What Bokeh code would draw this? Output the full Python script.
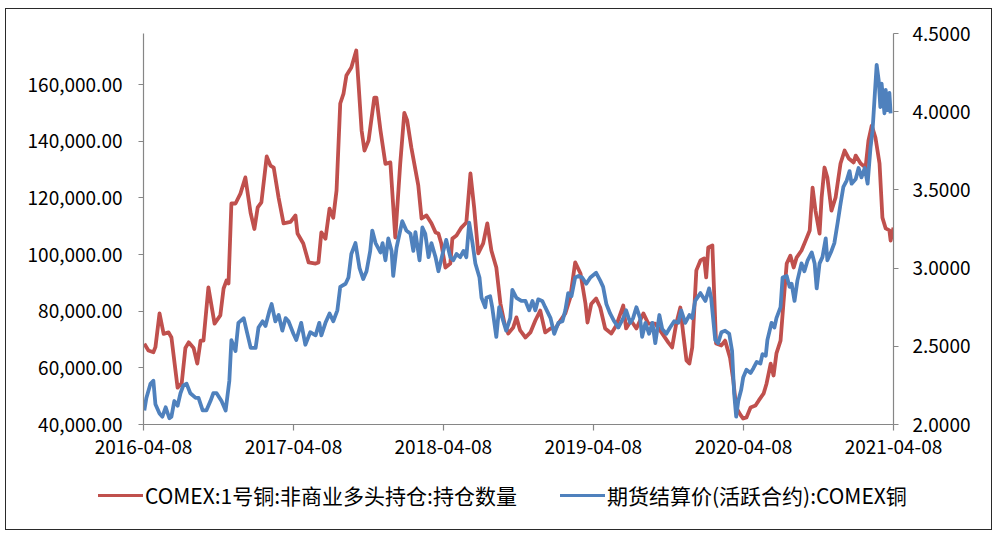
import pandas as pd
from bokeh.plotting import figure
from bokeh.layouts import column
from bokeh.models import (Range1d, LinearAxis, FixedTicker, NumeralTickFormatter,
                          DatetimeTickFormatter, ColumnDataSource, Div)
from bokeh.embed import file_html
from bokeh.resources import INLINE

# ---------------- data ----------------
red_dates = [
    "2016-04-10", "2016-04-20", "2016-05-02", "2016-05-07", "2016-05-17", "2016-05-27",
    "2016-06-08", "2016-06-15", "2016-06-30", "2016-07-10", "2016-07-19", "2016-07-27",
    "2016-08-08", "2016-08-17", "2016-08-25", "2016-09-01", "2016-09-13", "2016-09-28",
    "2016-10-12", "2016-10-20", "2016-10-27", "2016-11-01", "2016-11-08", "2016-11-18",
    "2016-11-30", "2016-12-12", "2016-12-25", "2017-01-03", "2017-01-11", "2017-01-20",
    "2017-02-02", "2017-02-11", "2017-02-19", "2017-03-03", "2017-03-15", "2017-04-01",
    "2017-04-13", "2017-04-18", "2017-05-02", "2017-05-15", "2017-06-01", "2017-06-08",
    "2017-06-15", "2017-06-25", "2017-07-05", "2017-07-14", "2017-07-22", "2017-07-31",
    "2017-08-08", "2017-08-15", "2017-08-27", "2017-09-08", "2017-09-13", "2017-09-21",
    "2017-09-28", "2017-10-08", "2017-10-22", "2017-10-27", "2017-11-06", "2017-11-18",
    "2017-11-30", "2017-12-12", "2017-12-24", "2018-01-03", "2018-01-10", "2018-01-20",
    "2018-02-06", "2018-02-14", "2018-02-26", "2018-03-10", "2018-03-20", "2018-03-27",
    "2018-04-03", "2018-04-13", "2018-04-25", "2018-04-30", "2018-05-10", "2018-05-22",
    "2018-06-03", "2018-06-13", "2018-06-22", "2018-07-02", "2018-07-14", "2018-07-24",
    "2018-08-03", "2018-08-15", "2018-08-25", "2018-09-04", "2018-09-13", "2018-09-25",
    "2018-10-03", "2018-10-12", "2018-10-25", "2018-11-06", "2018-11-18", "2018-11-30",
    "2018-12-12", "2018-12-25", "2019-01-06", "2019-01-18", "2019-01-30", "2019-02-11",
    "2019-02-23", "2019-03-08", "2019-03-20", "2019-03-25", "2019-04-03", "2019-04-15",
    "2019-04-25", "2019-05-07", "2019-05-22", "2019-06-03", "2019-06-20", "2019-06-27",
    "2019-07-09", "2019-07-22", "2019-08-08", "2019-08-20", "2019-09-06", "2019-09-21",
    "2019-10-08", "2019-10-17", "2019-10-27", "2019-11-06", "2019-11-13", "2019-11-21",
    "2019-11-28", "2019-12-05", "2019-12-15", "2019-12-25", "2020-01-03", "2020-01-08",
    "2020-01-13", "2020-01-23", "2020-01-28", "2020-02-01", "2020-02-14", "2020-02-23",
    "2020-03-06", "2020-03-14", "2020-03-21", "2020-03-31", "2020-04-07", "2020-04-15",
    "2020-04-25", "2020-05-07", "2020-05-15", "2020-05-27", "2020-06-03", "2020-06-13",
    "2020-06-20", "2020-06-27", "2020-07-07", "2020-07-14", "2020-07-22", "2020-07-31",
    "2020-08-08", "2020-08-15", "2020-08-27", "2020-09-06", "2020-09-16", "2020-09-23",
    "2020-09-30", "2020-10-10", "2020-10-15", "2020-10-22", "2020-10-29", "2020-11-08",
    "2020-11-18", "2020-11-30", "2020-12-10", "2020-12-20", "2021-01-01", "2021-01-06",
    "2021-01-18", "2021-01-30", "2021-02-06", "2021-02-14", "2021-02-23", "2021-03-05",
    "2021-03-12", "2021-03-20", "2021-03-29", "2021-04-01", "2021-04-08",
]
red_values = [
    68500, 66100, 65500, 67300, 79200, 72000,
    72500, 70700, 53000, 54500, 67000, 69000,
    67000, 61500, 69600, 69600, 88400, 75600,
    78500, 88000, 90800, 89800, 118000, 118000,
    121500, 127200, 114500, 109000, 116600, 118400,
    134600, 131400, 130700, 120000, 111000, 111500,
    113800, 107400, 103900, 97200, 96800, 97200,
    107800, 105600, 116200, 113000, 122600, 153300,
    156800, 163200, 166000, 172000, 161400, 143800,
    136700, 140200, 155400, 155400, 143800, 132000,
    132500, 106000, 132000, 150000, 147300, 137800,
    124400, 112700, 113800, 111000, 107800, 107400,
    103900, 95400, 96800, 105600, 106700, 109500,
    111300, 128600, 116600, 100400, 103900, 111000,
    101400, 95400, 82700, 75600, 72100, 74200,
    77800, 73200, 70700, 72500, 76700, 80200,
    72500, 73900, 73900, 76700, 79200, 84800,
    97200, 93300, 82700, 76000, 82500, 84500,
    81300, 73900, 72100, 74900, 82000, 73900,
    76700, 73900, 79200, 75600, 75600, 72500,
    68900, 67200, 75600, 81300, 72100, 62600,
    61500, 67200, 94400, 97900, 98600, 91900,
    102500, 103200, 83800, 68600, 67900, 69600,
    63600, 55500, 46000, 43500, 42100, 42500,
    46000, 46700, 48500, 51000, 54500, 61500,
    57300, 65100, 69600, 82700, 96800, 99600,
    95400, 98900, 101400, 104900, 108500, 123600,
    115500, 107400, 120100, 130700, 127200, 115500,
    120100, 132100, 136700, 133900, 132500, 134900,
    132100, 130700, 140200, 145500, 141300, 132100,
    113000, 109200, 108500, 104900, 109500,
]

blue_dates = [
    "2016-04-10", "2016-04-15", "2016-04-25", "2016-05-02", "2016-05-07", "2016-05-17",
    "2016-05-24", "2016-06-01", "2016-06-10", "2016-06-15", "2016-06-22", "2016-06-30",
    "2016-07-07", "2016-07-14", "2016-07-22", "2016-07-31", "2016-08-13", "2016-08-20",
    "2016-08-30", "2016-09-08", "2016-09-18", "2016-09-25", "2016-10-03", "2016-10-15",
    "2016-10-25", "2016-11-03", "2016-11-08", "2016-11-18", "2016-11-25", "2016-12-08",
    "2016-12-15", "2016-12-25", "2017-01-06", "2017-01-13", "2017-01-23", "2017-01-30",
    "2017-02-09", "2017-02-14", "2017-02-23", "2017-03-03", "2017-03-12", "2017-03-20",
    "2017-03-27", "2017-04-08", "2017-04-15", "2017-04-27", "2017-05-07", "2017-05-19",
    "2017-06-01", "2017-06-10", "2017-06-15", "2017-06-25", "2017-07-05", "2017-07-14",
    "2017-07-24", "2017-07-31", "2017-08-13", "2017-08-20", "2017-08-27", "2017-09-06",
    "2017-09-16", "2017-09-25", "2017-10-03", "2017-10-12", "2017-10-17", "2017-10-25",
    "2017-11-06", "2017-11-11", "2017-11-18", "2017-11-25", "2017-12-03", "2017-12-07",
    "2017-12-15", "2017-12-29", "2018-01-08", "2018-01-18", "2018-01-25", "2018-01-30",
    "2018-02-09", "2018-02-16", "2018-02-23", "2018-03-03", "2018-03-10", "2018-03-20",
    "2018-03-27", "2018-04-08", "2018-04-15", "2018-04-25", "2018-05-02", "2018-05-10",
    "2018-05-19", "2018-05-27", "2018-06-03", "2018-06-10", "2018-06-18", "2018-06-25",
    "2018-07-05", "2018-07-10", "2018-07-19", "2018-07-22", "2018-07-31", "2018-08-05",
    "2018-08-15", "2018-08-22", "2018-09-01", "2018-09-08", "2018-09-18", "2018-09-23",
    "2018-10-03", "2018-10-15", "2018-10-25", "2018-11-03", "2018-11-11", "2018-11-18",
    "2018-11-25", "2018-12-05", "2018-12-12", "2018-12-25", "2019-01-03", "2019-01-13",
    "2019-01-23", "2019-01-30", "2019-02-06", "2019-02-14", "2019-02-23", "2019-03-03",
    "2019-03-12", "2019-03-22", "2019-04-01", "2019-04-15", "2019-04-25", "2019-05-02",
    "2019-05-10", "2019-05-19", "2019-05-29", "2019-06-08", "2019-06-20", "2019-06-27",
    "2019-07-07", "2019-07-14", "2019-07-22", "2019-07-31", "2019-08-05", "2019-08-13",
    "2019-08-22", "2019-08-30", "2019-09-06", "2019-09-16", "2019-09-23", "2019-10-03",
    "2019-10-12", "2019-10-22", "2019-11-01", "2019-11-08", "2019-11-18", "2019-11-28",
    "2019-12-05", "2019-12-12", "2019-12-25", "2020-01-01", "2020-01-06", "2020-01-15",
    "2020-01-20", "2020-01-30", "2020-02-06", "2020-02-14", "2020-02-23", "2020-03-04",
    "2020-03-11", "2020-03-16", "2020-03-21", "2020-03-26", "2020-04-02", "2020-04-07",
    "2020-04-15", "2020-04-25", "2020-05-02", "2020-05-10", "2020-05-19", "2020-05-24",
    "2020-06-01", "2020-06-05", "2020-06-15", "2020-06-22", "2020-06-27", "2020-07-07",
    "2020-07-12", "2020-07-22", "2020-07-29", "2020-08-03", "2020-08-10", "2020-08-17",
    "2020-08-27", "2020-09-03", "2020-09-11", "2020-09-21", "2020-09-28", "2020-10-03",
    "2020-10-10", "2020-10-17", "2020-10-25", "2020-10-29", "2020-11-08", "2020-11-15",
    "2020-11-23", "2020-11-30", "2020-12-07", "2020-12-15", "2020-12-22", "2020-12-27",
    "2021-01-06", "2021-01-13", "2021-01-20", "2021-01-28", "2021-02-04", "2021-02-11",
    "2021-02-16", "2021-02-21", "2021-02-26", "2021-03-03", "2021-03-07", "2021-03-10",
    "2021-03-17", "2021-03-20", "2021-03-24", "2021-03-29", "2021-04-01",
]
blue_values = [
    2.09, 2.17, 2.26, 2.28, 2.13, 2.07,
    2.05, 2.11, 2.04, 2.05, 2.15, 2.12,
    2.20, 2.25, 2.26, 2.20, 2.17, 2.17,
    2.09, 2.09, 2.15, 2.20, 2.20, 2.15,
    2.09, 2.28, 2.54, 2.47, 2.65, 2.68,
    2.60, 2.49, 2.49, 2.62, 2.66, 2.63,
    2.73, 2.77, 2.66, 2.70, 2.60, 2.68,
    2.66, 2.58, 2.54, 2.65, 2.51, 2.59,
    2.57, 2.65, 2.57, 2.65, 2.71, 2.66,
    2.73, 2.88, 2.90, 2.94, 3.09, 3.16,
    3.00, 2.93, 2.98, 3.11, 3.24, 3.16,
    3.10, 3.16, 3.05, 3.19, 3.11, 2.95,
    3.13, 3.30, 3.24, 3.22, 3.11, 3.23,
    3.05, 3.26, 3.22, 3.07, 3.16, 3.07,
    2.98, 3.11, 3.18, 3.07, 3.05, 3.09,
    3.07, 3.11, 3.07, 3.29, 3.16, 3.03,
    2.94, 2.81, 2.75, 2.81, 2.82, 2.75,
    2.56, 2.75, 2.66, 2.60, 2.68, 2.86,
    2.81, 2.79, 2.79, 2.73, 2.79, 2.73,
    2.80, 2.79, 2.75, 2.68, 2.58, 2.65,
    2.66, 2.73, 2.84, 2.82, 2.94, 2.95,
    2.94, 2.90, 2.94, 2.97, 2.92, 2.88,
    2.77, 2.71, 2.66, 2.62, 2.68, 2.73,
    2.65, 2.68, 2.75, 2.68, 2.56, 2.65,
    2.58, 2.65, 2.52, 2.70, 2.61, 2.58,
    2.62, 2.66, 2.65, 2.73, 2.65, 2.70,
    2.68, 2.79, 2.84, 2.81, 2.79, 2.87,
    2.81, 2.54, 2.52, 2.59, 2.60, 2.58,
    2.47, 2.20, 2.05, 2.15, 2.22, 2.30,
    2.35, 2.33, 2.36, 2.40, 2.39, 2.45,
    2.44, 2.54, 2.65, 2.62, 2.68, 2.75,
    2.94, 2.95, 2.88, 2.90, 2.79, 2.92,
    3.03, 2.98, 3.05, 3.10, 3.03, 2.87,
    3.03, 3.07, 3.19, 3.05, 3.11, 3.16,
    3.29, 3.41, 3.52, 3.56, 3.62, 3.54,
    3.57, 3.64, 3.58, 3.64, 3.54, 3.77,
    3.88, 4.09, 4.30, 4.20, 4.03, 4.18,
    3.99, 4.14, 4.01, 4.12, 3.99,
]

x_tick_labels = ["2016-04-08", "2017-04-08", "2018-04-08",
                 "2019-04-08", "2020-04-08", "2021-04-08"]
left_ticks = [40000, 60000, 80000, 100000, 120000, 140000, 160000]
right_ticks = [2.0, 2.5, 3.0, 3.5, 4.0, 4.5]

red_label = "COMEX:1号铜:非商业多头持仓:持仓数量"
blue_label = "期货结算价(活跃合约):COMEX铜"

# ---------------- plot ----------------
FONT = "Noto Sans CJK SC"
RED = "#C0504D"
BLUE = "#4F81BD"
AXIS_GRAY = "#868686"
LW = 3.8

red_src = ColumnDataSource(dict(x=pd.to_datetime(red_dates), y=red_values))
blue_src = ColumnDataSource(dict(x=pd.to_datetime(blue_dates), y=blue_values))

x_start = pd.Timestamp(x_tick_labels[0])
x_end = pd.Timestamp(x_tick_labels[-1])

p = figure(width=985, height=465, x_axis_type="datetime",
           output_backend="svg", toolbar_location=None,
           x_range=Range1d(x_start, x_end),
           y_range=Range1d(40000, 178000),
           min_border_left=137, min_border_right=98,
           min_border_top=24, min_border_bottom=50,
           background_fill_color="white", border_fill_color="white")
p.outline_line_color = None
p.grid.visible = False
p.extra_y_ranges = {"right": Range1d(2.0, 4.5)}

p.line("x", "y", source=red_src, line_color=RED, line_width=LW, line_join="round")
p.line("x", "y", source=blue_src, line_color=BLUE, line_width=LW,
       line_join="round", y_range_name="right")

def style_axis(ax):
    ax.axis_line_color = AXIS_GRAY
    ax.axis_line_width = 1.2
    ax.major_tick_line_color = AXIS_GRAY
    ax.major_tick_line_width = 1.2
    ax.major_tick_in = 0
    ax.major_tick_out = 5
    ax.minor_tick_line_color = None
    ax.major_label_text_font = FONT
    ax.major_label_text_font_size = "19px"
    ax.major_label_text_color = "#000000"

la = p.yaxis[0]
style_axis(la)
la.ticker = FixedTicker(ticks=left_ticks)
la.formatter = NumeralTickFormatter(format="0,0.00")
la.major_label_standoff = 16

ba = p.xaxis[0]
style_axis(ba)
ba.major_tick_out = 6
ba.ticker = FixedTicker(ticks=[pd.Timestamp(t).value / 1e6 for t in x_tick_labels])
ba.formatter = DatetimeTickFormatter(days="%Y-%m-%d", months="%Y-%m-%d",
                                     years="%Y-%m-%d", hours="%Y-%m-%d")
ba.major_label_standoff = 9

ra = LinearAxis(y_range_name="right")
style_axis(ra)
ra.ticker = FixedTicker(ticks=right_ticks)
ra.formatter = NumeralTickFormatter(format="0.0000")
ra.major_label_standoff = 14
p.add_layout(ra, "right")

# legend strip as HTML (real text)
def legend_item(left, color, label):
    return (
        f'<div style="position:absolute;left:{left}px;top:8px;height:26px;'
        f'display:flex;align-items:center;white-space:nowrap;">'
        f'<span style="display:inline-block;width:45px;height:0;'
        f'border-top:{LW}px solid {color};margin-right:2px;"></span>'
        f'<span style="font-family:\'{FONT}\';font-size:21px;color:#000;'
        f'line-height:26px;">{label}</span></div>'
    )

legend_html = (
    '<div style="position:relative;width:985px;height:55px;">'
    + legend_item(92, RED, red_label)
    + legend_item(554, BLUE, blue_label)
    + '</div>'
)
legend_div = Div(text=legend_html, width=985, height=55,
                 styles={"margin": "0", "padding": "0"})

layout = column(p, legend_div, spacing=0,
                styles={"border": "1.5px solid #2a2a2a",
                        "margin-left": "5px", "margin-top": "8px"})

open("out.html", "w").write(file_html(layout, INLINE))
